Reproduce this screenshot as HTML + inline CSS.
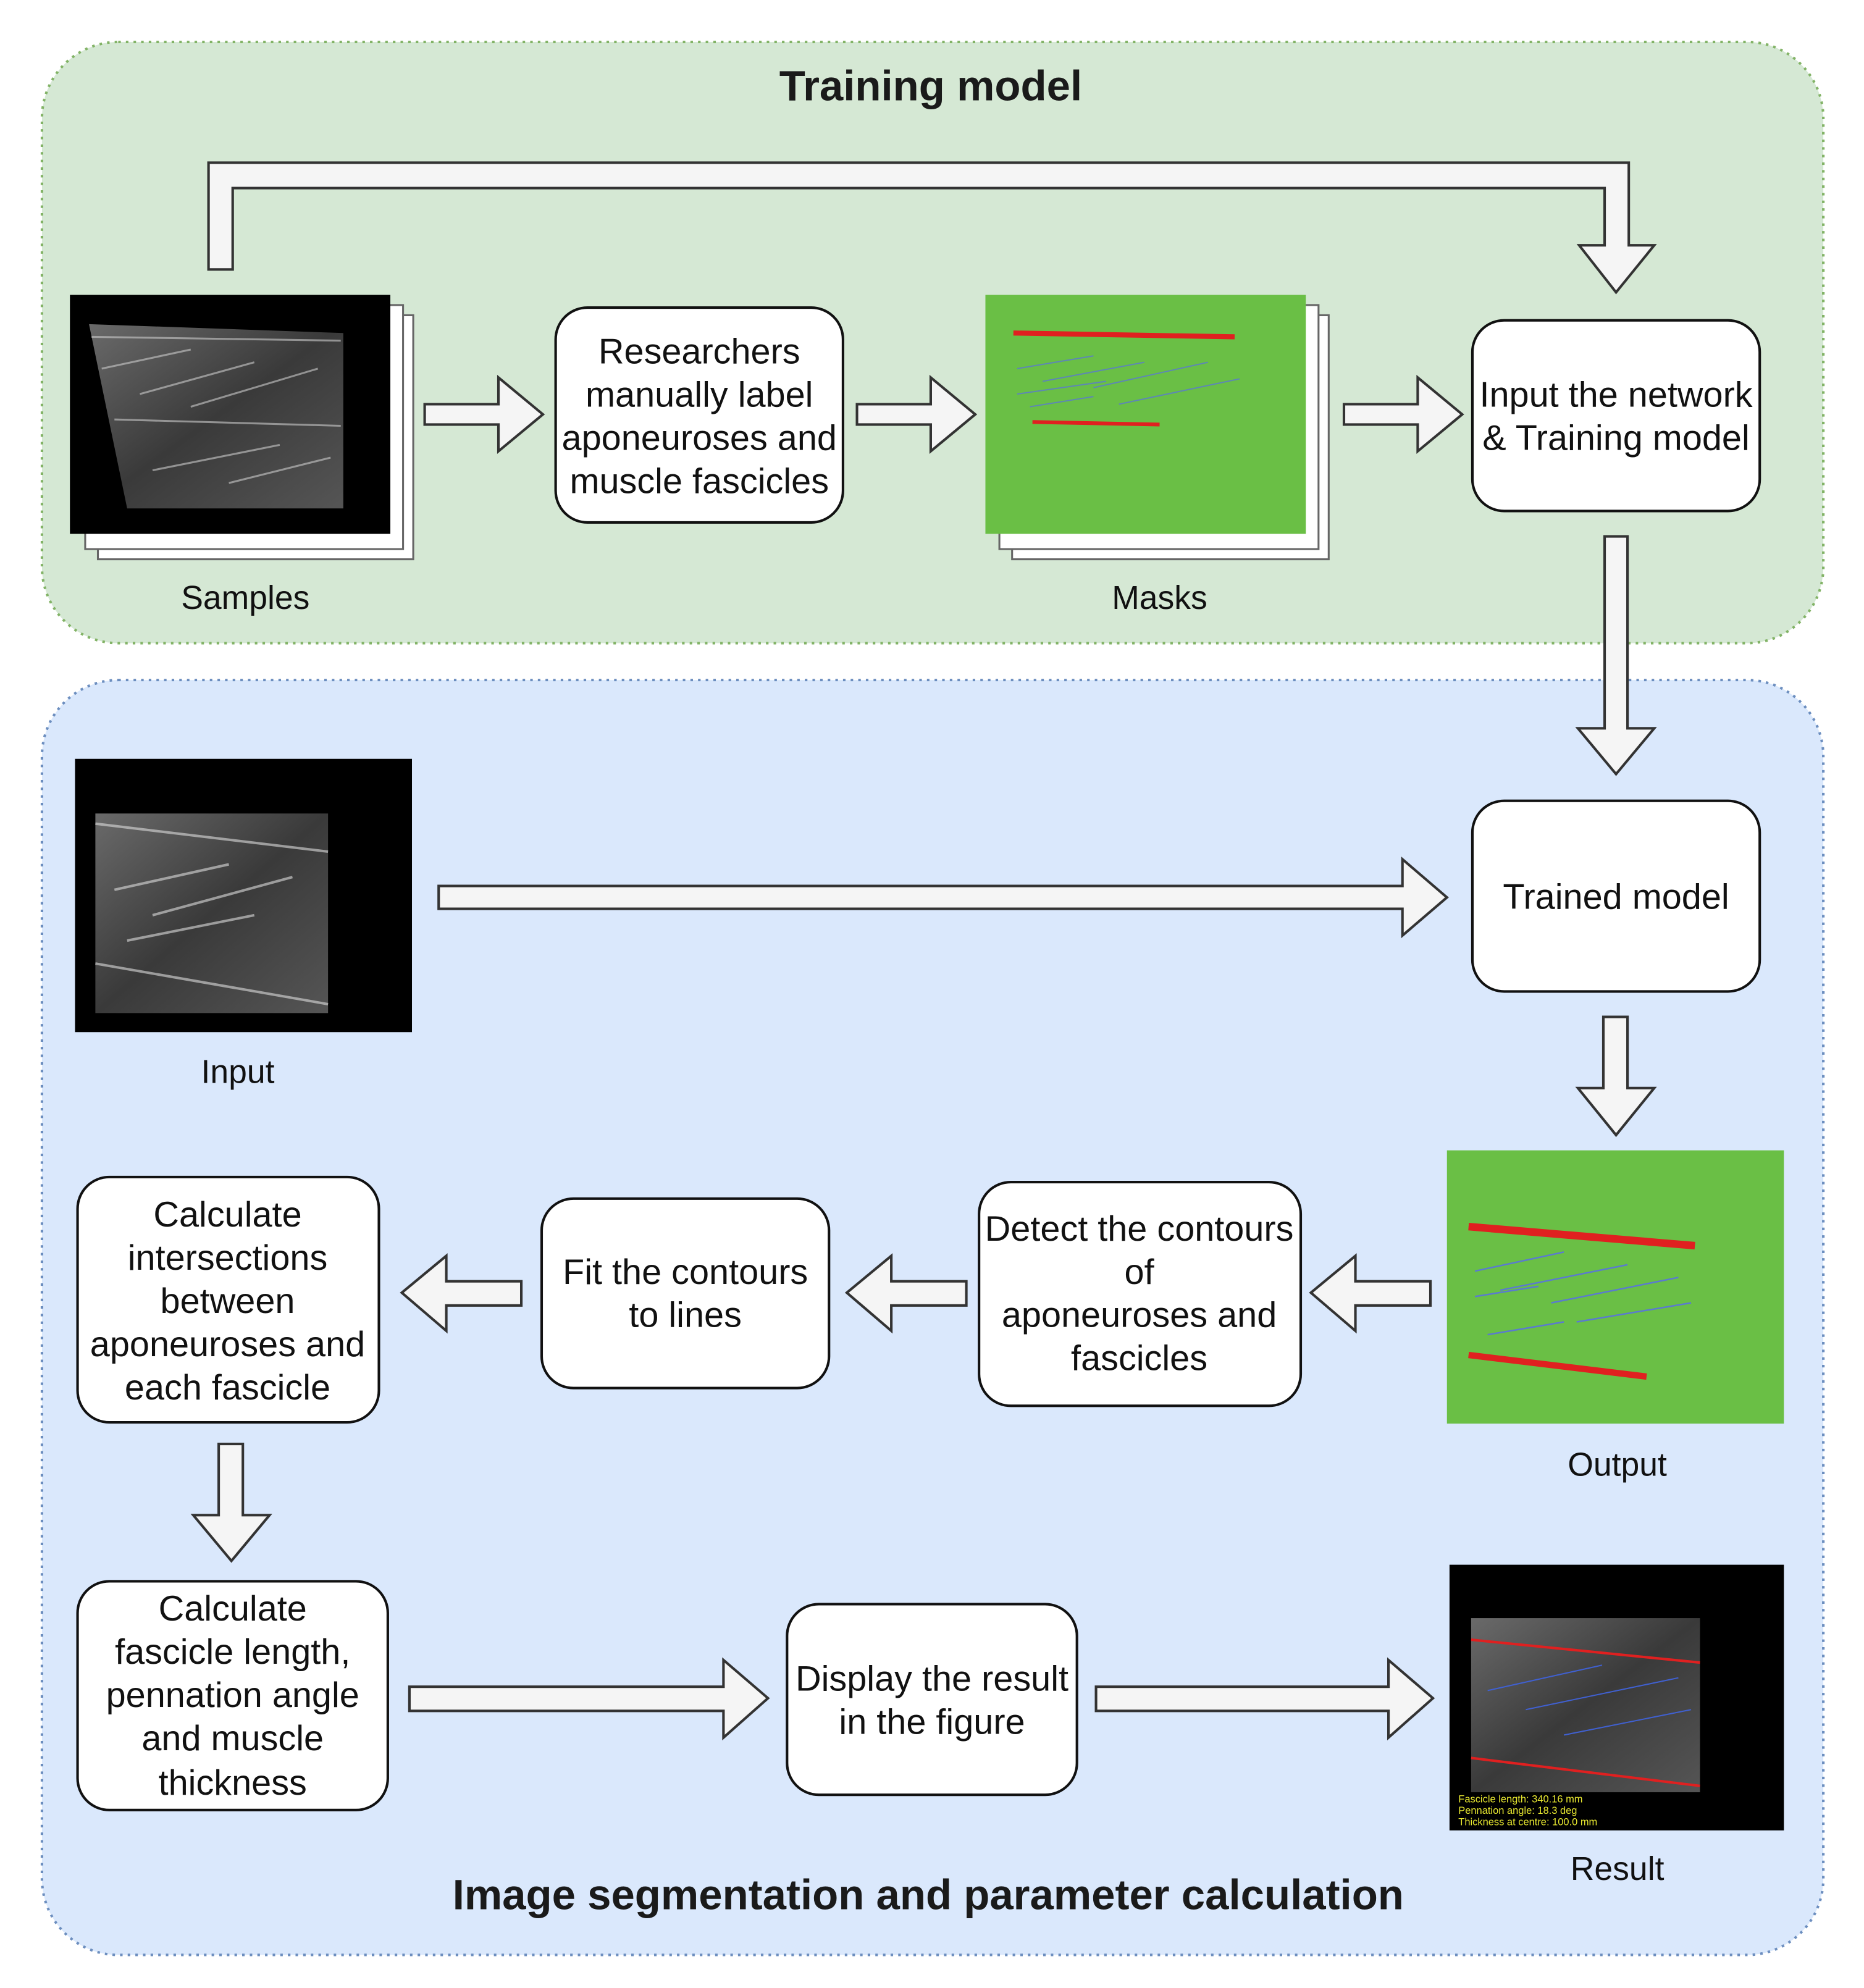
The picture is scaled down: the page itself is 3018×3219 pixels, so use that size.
<!DOCTYPE html>
<html><head><meta charset="utf-8">
<style>
html,body{margin:0;padding:0;background:#fff;}
svg{display:block;}
text{font-family:"Liberation Sans",sans-serif;}
</style></head>
<body>
<svg width="3018" height="3219" viewBox="0 0 1466 1564" preserveAspectRatio="none" xmlns="http://www.w3.org/2000/svg">
<defs>
<linearGradient id="us" x1="0" y1="0" x2="1" y2="1">
<stop offset="0" stop-color="#6a6a6a"/><stop offset="0.5" stop-color="#3a3a3a"/><stop offset="1" stop-color="#555"/>
</linearGradient>
</defs>
<rect x="33" y="33" width="1401" height="473" rx="60" fill="#d5e8d4" stroke="#82b366" stroke-width="2" stroke-dasharray="2,4"/>
<rect x="33" y="535" width="1401" height="1003" rx="60" fill="#dae8fc" stroke="#6c8ebf" stroke-width="2" stroke-dasharray="2,4"/>
<text x="732" y="79" font-size="33.5" font-weight="bold" text-anchor="middle" fill="#1a1a1a">Training model</text>
<text x="730" y="1502" font-size="33.5" font-weight="bold" text-anchor="middle" fill="#1a1a1a">Image segmentation and parameter calculation</text>

<g fill="#f5f5f5" stroke="#333" stroke-width="2" stroke-linejoin="miter">
<path d="M164,212 L164,128 L1281,128 L1281,193 L1301,193 L1271,230 L1242,193 L1262,193 L1262,148 L183,148 L183,212 Z"/>
<path d="M334,318 L392,318 L392,297 L427,326 L392,355 L392,334 L334,334 Z"/>
<path d="M674,318 L732,318 L732,297 L767,326 L732,355 L732,334 L674,334 Z"/>
<path d="M1057,318 L1115,318 L1115,297 L1150,326 L1115,355 L1115,334 L1057,334 Z"/>
<path d="M1262,422 L1280,422 L1280,573 L1301,573 L1271,609 L1241,573 L1262,573 Z"/>
<path d="M345,697 L1103,697 L1103,676 L1138,706 L1103,736 L1103,715 L345,715 Z"/>
<path d="M1261,800 L1280,800 L1280,856 L1301,856 L1271,893 L1241,856 L1261,856 Z"/>
<path d="M1125,1008 L1066,1008 L1066,988 L1031,1017 L1066,1047 L1066,1027 L1125,1027 Z"/>
<path d="M760,1008 L701,1008 L701,988 L666,1017 L701,1047 L701,1027 L760,1027 Z"/>
<path d="M410,1008 L351,1008 L351,988 L316,1017 L351,1047 L351,1027 L410,1027 Z"/>
<path d="M172,1136 L191,1136 L191,1192 L212,1192 L182,1228 L152,1192 L172,1192 Z"/>
<path d="M322,1327 L569,1327 L569,1306 L604,1336 L569,1367 L569,1346 L322,1346 Z"/>
<path d="M862,1327 L1092,1327 L1092,1306 L1127,1336 L1092,1367 L1092,1346 L862,1346 Z"/>
</g>

<g fill="#fff" stroke="#111" stroke-width="2">
<rect x="437" y="242" width="226" height="169" rx="25"/>
<rect x="1158" y="252" width="226" height="150" rx="25"/>
<rect x="1158" y="630" width="226" height="150" rx="25"/>
<rect x="770" y="930" width="253" height="176" rx="25"/>
<rect x="426" y="943" width="226" height="149" rx="25"/>
<rect x="61" y="926" width="237" height="193" rx="25"/>
<rect x="61" y="1244" width="244" height="180" rx="25"/>
<rect x="619" y="1262" width="228" height="150" rx="25"/>
</g>
<g font-size="28" text-anchor="middle" fill="#111">
<text x="550" y="286">Researchers</text><text x="550" y="320">manually label</text><text x="550" y="354">aponeuroses and</text><text x="550" y="388">muscle fascicles</text>
<text x="1271" y="320">Input the network</text><text x="1271" y="354">&amp; Training model</text>
<text x="1271" y="715">Trained model</text>
<text x="896" y="976">Detect the contours</text><text x="896" y="1010">of</text><text x="896" y="1044">aponeuroses and</text><text x="896" y="1078">fascicles</text>
<text x="539" y="1010">Fit the contours</text><text x="539" y="1044">to  lines</text>
<text x="179" y="965">Calculate</text><text x="179" y="999">intersections</text><text x="179" y="1033">between</text><text x="179" y="1067">aponeuroses and</text><text x="179" y="1101">each fascicle</text>
<text x="183" y="1275">Calculate</text><text x="183" y="1309">fascicle length,</text><text x="183" y="1343">pennation angle</text><text x="183" y="1377">and muscle</text><text x="183" y="1412">thickness</text>
<text x="733" y="1330">Display the result</text><text x="733" y="1364">in the figure</text>
</g>
<g font-size="26" text-anchor="middle" fill="#111">
<text x="193" y="479">Samples</text>
<text x="912" y="479">Masks</text>
<text x="187" y="852">Input</text>
<text x="1272" y="1161">Output</text>
<text x="1272" y="1479">Result</text>
</g>

<rect x="77" y="248" width="248" height="192" fill="#fff" stroke="#666" stroke-width="1.5"/>
<rect x="67" y="240" width="250" height="192" fill="#fff" stroke="#666" stroke-width="1.5"/>
<rect x="55" y="232" width="252" height="188" fill="#000"/>
<path d="M70,255 L270,262 L270,400 L100,400 Z" fill="url(#us)"/>
<g stroke="#ccc" stroke-width="1.5" opacity="0.6">
<line x1="72" y1="265" x2="268" y2="268"/><line x1="90" y1="330" x2="268" y2="335"/>
<line x1="80" y1="290" x2="150" y2="275"/><line x1="110" y1="310" x2="200" y2="285"/><line x1="150" y1="320" x2="250" y2="290"/>
<line x1="120" y1="370" x2="220" y2="350"/><line x1="180" y1="380" x2="260" y2="360"/>
</g>
<rect x="796" y="248" width="249" height="192" fill="#fff" stroke="#666" stroke-width="1.5"/>
<rect x="786" y="240" width="251" height="192" fill="#fff" stroke="#666" stroke-width="1.5"/>
<rect x="775" y="232" width="252" height="188" fill="#6abf45"/>
<line x1="797" y1="262" x2="971" y2="265" stroke="#e02020" stroke-width="4"/>
<line x1="812" y1="332" x2="912" y2="334" stroke="#e02020" stroke-width="3"/>
<g stroke="#5a7ad0" stroke-width="1" opacity="0.8">
<line x1="800" y1="290" x2="860" y2="280"/><line x1="820" y1="300" x2="900" y2="285"/><line x1="860" y1="305" x2="950" y2="285"/>
<line x1="800" y1="310" x2="870" y2="300"/><line x1="880" y1="318" x2="975" y2="298"/><line x1="810" y1="320" x2="860" y2="312"/>
</g>
<rect x="59" y="597" width="265" height="215" fill="#000"/>
<rect x="75" y="640" width="183" height="157" fill="url(#us)"/>
<g stroke="#ddd" stroke-width="2" opacity="0.6">
<line x1="75" y1="648" x2="258" y2="670"/><line x1="75" y1="758" x2="258" y2="790"/>
<line x1="90" y1="700" x2="180" y2="680"/><line x1="120" y1="720" x2="230" y2="690"/><line x1="100" y1="740" x2="200" y2="720"/>
</g>
<rect x="1138" y="905" width="265" height="215" fill="#6abf45"/>
<line x1="1155" y1="965" x2="1333" y2="980" stroke="#e02020" stroke-width="6"/>
<line x1="1155" y1="1066" x2="1295" y2="1083" stroke="#e02020" stroke-width="5"/>
<g stroke="#5a7ad0" stroke-width="1.2">
<line x1="1160" y1="1000" x2="1230" y2="985"/><line x1="1180" y1="1015" x2="1280" y2="995"/><line x1="1220" y1="1025" x2="1320" y2="1005"/>
<line x1="1160" y1="1020" x2="1210" y2="1012"/><line x1="1240" y1="1040" x2="1330" y2="1025"/><line x1="1170" y1="1050" x2="1230" y2="1040"/>
</g>
<rect x="1140" y="1231" width="263" height="209" fill="#000"/>
<rect x="1157" y="1273" width="180" height="137" fill="url(#us)"/>
<line x1="1157" y1="1290" x2="1337" y2="1308" stroke="#e02020" stroke-width="2"/>
<line x1="1157" y1="1383" x2="1337" y2="1405" stroke="#e02020" stroke-width="2"/>
<g stroke="#4060d0" stroke-width="1">
<line x1="1170" y1="1330" x2="1260" y2="1310"/><line x1="1200" y1="1345" x2="1320" y2="1320"/><line x1="1230" y1="1365" x2="1330" y2="1345"/>
</g>
<g font-size="8" fill="#e8e830">
<text x="1147" y="1418">Fascicle length: 340.16 mm</text>
<text x="1147" y="1427">Pennation angle: 18.3 deg</text>
<text x="1147" y="1436">Thickness at centre: 100.0 mm</text>
</g>
</svg>
</body></html>
